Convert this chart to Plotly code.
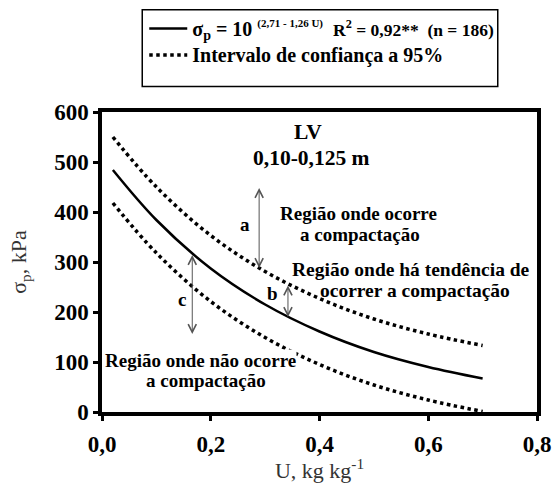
import plotly.graph_objects as go

# Moisture content U (kg kg-1) and preconsolidation pressure (kPa)
u_vals = [0.02, 0.10, 0.20, 0.30, 0.40, 0.50, 0.60, 0.70]
sigma_fit = [484, 384, 287, 215, 161, 120, 90, 67]
ci_upper = [550, 450, 353, 281, 227, 186, 156, 133]
ci_lower = [418, 318, 221, 149, 95, 54, 24, 1]

x_ticks = [0.0, 0.2, 0.4, 0.6, 0.8]
x_tick_text = ["0,0", "0,2", "0,4", "0,6", "0,8"]
y_ticks = [0, 100, 200, 300, 400, 500, 600]

legend_fit = ("<span style='font-size:20px'><b>σ<sub>p</sub> = 10 "
              "<sup><span style='font-size:11px'>(2,71 - 1,26 U)</span></sup>\u00a0 "
              "<span style='font-size:17.5px'>R<sup>2</sup> = 0,92**\u00a0\u00a0(n = 186)</span>"
              "</b></span>")
legend_ci = "<span style='font-size:20px'><b>Intervalo de confiança a 95%</b></span>"

FONT = "Liberation Serif"

fig = go.Figure()

fig.add_trace(go.Scatter(
    x=u_vals, y=sigma_fit, mode="lines", name=legend_fit,
    line=dict(color="black", width=2.5, shape="spline"),
))
fig.add_trace(go.Scatter(
    x=u_vals, y=ci_upper, mode="lines", name=legend_ci,
    line=dict(color="black", width=3.5, shape="spline", dash="3.5px,3.5px"),
))
fig.add_trace(go.Scatter(
    x=u_vals, y=ci_lower, mode="lines", name=legend_ci, showlegend=False,
    line=dict(color="black", width=3.5, shape="spline", dash="3.5px,3.5px"),
))

annotations = []

# Double-headed arrows marking the regions a, b and c
arrows = [
    (0.289, 451, 288),
    (0.342, 256, 190),
    (0.166, 317, 156),
]
for ux, y_top, y_bot in arrows:
    annotations.append(dict(
        x=ux, y=y_bot, ax=ux, ay=y_top, xref="x", yref="y", axref="x", ayref="y",
        text="", showarrow=True, arrowhead=5, startarrowhead=5,
        arrowside="end+start", arrowsize=1.6, startarrowsize=1.6,
        arrowwidth=1, arrowcolor="#555555",
    ))

labels = [
    ("LV", 0.379, 561, 21.5, False),
    ("0,10-0,125 m", 0.386, 508, 21.5, False),
    ("Região onde ocorre", 0.471, 397, 19, False),
    ("a compactação", 0.475, 355, 19, False),
    ("Região onde há tendência de", 0.568, 286, 19.5, False),
    ("ocorrer a compactação", 0.576, 243, 19.5, False),
    ("Região onde não ocorre", 0.182, 103, 19, True),
    ("a compactação", 0.191, 63, 19, False),
    ("a", 0.263, 376, 19, False),
    ("b", 0.313, 237, 19, False),
    ("c", 0.147, 226, 19, False),
]
for text, lx, ly, size, boxed in labels:
    annotations.append(dict(
        x=lx, y=ly, xref="x", yref="y", text="<b>" + text + "</b>",
        showarrow=False, xanchor="center", yanchor="middle",
        font=dict(family=FONT, size=size, color="black"),
        bgcolor="white" if boxed else None, borderpad=0,
    ))

fig.update_layout(
    width=557, height=483,
    margin=dict(l=101.7, r=19.7, t=110.7, b=71.3),
    paper_bgcolor="white", plot_bgcolor="white",
    showlegend=True,
    legend=dict(
        x=(144 - 101.7) / 435.6, y=1.3346, xanchor="left", yanchor="top",
        bgcolor="rgba(0,0,0,0)", borderwidth=0,
        font=dict(family=FONT, size=18, color="black"),
        itemwidth=38, tracegroupgap=0,
    ),
    shapes=[dict(
        type="rect", xref="paper", yref="paper",
        x0=(142 - 101.7) / 435.6, x1=(498 - 101.7) / 435.6,
        y0=(411.7 - 85) / 301.0, y1=(411.7 - 8) / 301.0,
        line=dict(color="black", width=1.5), fillcolor="rgba(0,0,0,0)",
    )],
    annotations=annotations,
    xaxis=dict(
        range=[0, 0.8], tickvals=x_ticks, automargin=False,
        ticktext=["<b>%s</b>" % t for t in x_tick_text],
        showgrid=False, zeroline=False,
        showline=True, linecolor="black", linewidth=3.5, mirror=True,
        ticks="outside", ticklen=5, tickwidth=3, tickcolor="black",
        ticklabelstandoff=4,
        tickfont=dict(family=FONT, size=23, color="black"),
        title=dict(text="U, kg kg<sup>-1</sup>", standoff=16,
                   font=dict(family=FONT, size=22, color="#333333")),
    ),
    yaxis=dict(
        range=[0, 600], tickvals=y_ticks, automargin=False,
        ticktext=["<b>%d</b>" % v for v in y_ticks],
        showgrid=False, zeroline=False,
        showline=True, linecolor="black", linewidth=3.5, mirror=True,
        ticks="outside", ticklen=5, tickwidth=3, tickcolor="black",
        tickfont=dict(family=FONT, size=23, color="black"),
        title=dict(text="σ<sub>p</sub>, kPa", standoff=22,
                   font=dict(family=FONT, size=22, color="#333333")),
    ),
)

fig.write_html("out.html")
